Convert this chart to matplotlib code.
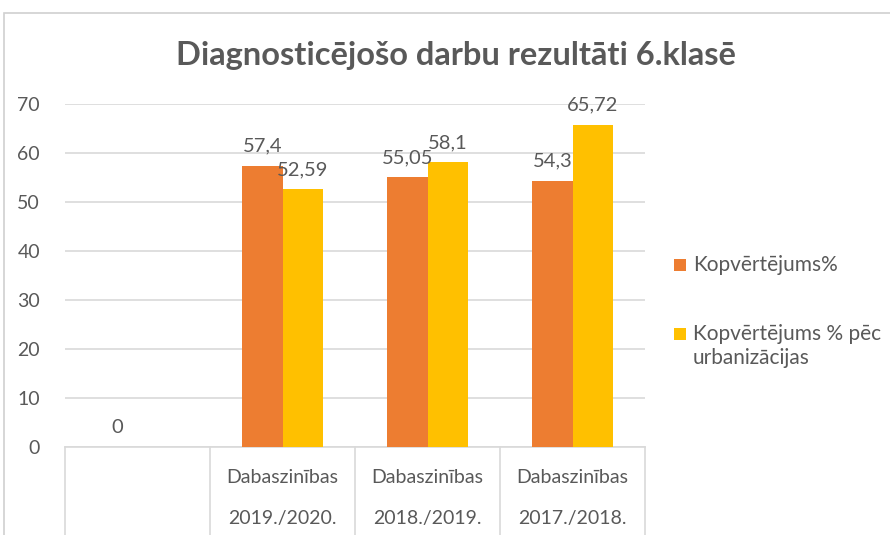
import matplotlib.pyplot as plt
import numpy as np
from matplotlib.patches import Rectangle
from matplotlib.lines import Line2D

plt.rcParams['font.family'] = ['Lato', 'DejaVu Sans']

# data
subjects = ["", "Dabaszinības", "Dabaszinības", "Dabaszinības"]
years = ["", "2019./2020.", "2018./2019.", "2017./2018."]
kopv = [0, 57.4, 55.05, 54.3]
kopv_urb = [None, 52.59, 58.1, 65.72]
series_names = ["Kopvērtējums%", "Kopvērtējums % pēc\nurbanizācijas"]
labels_kopv = ["0", "57,4", "55,05", "54,3"]
labels_urb = [None, "52,59", "58,1", "65,72"]

orange = "#ED7D31"
yellow = "#FFC000"
txt = "#595959"
grid = "#D9D9D9"

W, H = 890, 535
fig = plt.figure(figsize=(W/100, H/100), dpi=100)
ax = fig.add_axes([65/W, 1 - 447/H, 580/W, 343/H])

def fx(px):
    return px / W

def fy(py):
    return 1 - py / H

# chart border like Excel
fig.patches.append(Rectangle((fx(4), -0.1), 1.2, fy(13) + 0.1, transform=fig.transFigure,
                             fill=False, edgecolor="#D0D0D0", linewidth=1.2))

x = np.arange(len(subjects))
w = 0.276
ax.bar(x - w/2, kopv, w, color=orange, zorder=3)
yv = [np.nan if v is None else v for v in kopv_urb]
ax.bar(x + w/2, yv, w, color=yellow, zorder=3)

for i in range(len(x)):
    ax.annotate(labels_kopv[i], (x[i] - w/2, kopv[i]), xytext=(0, 8), textcoords="offset points",
                ha="center", va="bottom", fontsize=14.5, color=txt, zorder=4)
    if labels_urb[i] is not None:
        ax.annotate(labels_urb[i], (x[i] + w/2, kopv_urb[i]), xytext=(0, 8), textcoords="offset points",
                    ha="center", va="bottom", fontsize=14.5, color=txt, zorder=4)

ax.set_xlim(-0.5, len(subjects) - 0.5)
ax.set_ylim(0, 70)
ax.set_yticks(range(0, 71, 10))
ax.yaxis.grid(True, color=grid, linewidth=1.2, zorder=0)
ax.tick_params(axis="y", length=0, labelsize=14, labelcolor=txt, pad=18)
ax.set_xticks([])
for s in ["top", "right", "left"]:
    ax.spines[s].set_visible(False)
ax.spines["bottom"].set_color(grid)
ax.spines["bottom"].set_linewidth(1.2)

# two-level category labels
for i in range(len(x)):
    ax.annotate(subjects[i], (x[i], 0), xycoords=("data", "axes fraction"), xytext=(0, -22),
                textcoords="offset points", ha="center", va="center", fontsize=14, color=txt)
    ax.annotate(years[i], (x[i], 0), xycoords=("data", "axes fraction"), xytext=(0, -51.5),
                textcoords="offset points", ha="center", va="center", fontsize=14, color=txt)

# category separators below the axis
for b in np.arange(-0.5, len(subjects), 1.0):
    ax.add_line(Line2D([b, b], [0, -20], color=grid, linewidth=1.2, clip_on=False))

fig.text(fx(456), fy(55), "Diagnosticējošo darbu rezultāti 6.klasē", ha="center", va="center",
         fontsize=23.5, fontweight="bold", color=txt)

# legend drawn like Excel: square next to the first text line
leg_y = [265, 334]
line_gap = 24
for col, name, py in zip([orange, yellow], series_names, leg_y):
    fig.patches.append(Rectangle((fx(674), fy(py + 6)), 12/W, 12/H, transform=fig.transFigure,
                                 facecolor=col, edgecolor="none"))
    for k, line in enumerate(name.split("\n")):
        fig.text(fx(693), fy(py + k * line_gap), line, ha="left", va="center", fontsize=15, color=txt)

fig.savefig("out.png", dpi=100)
